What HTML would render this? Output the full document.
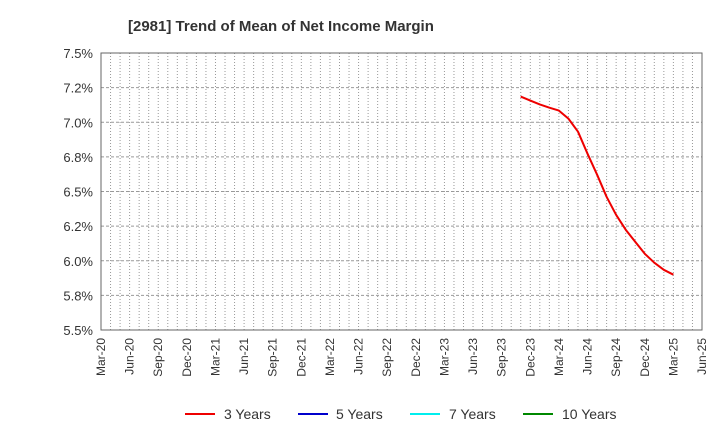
<!DOCTYPE html>
<html><head><meta charset="utf-8"><style>
body{margin:0;background:#fff;font-family:"Liberation Sans",sans-serif}
</style></head><body>
<svg id="c" width="720" height="440" xmlns="http://www.w3.org/2000/svg" font-family="Liberation Sans, sans-serif">
<text x="128" y="31" font-size="15" font-weight="bold" fill="#333">[2981]  Trend of Mean of Net Income Margin</text>
<g id="grid"></g><g id="axes"></g><g id="series"></g>
<g font-size="14" fill="#333">
<line x1="185" y1="414" x2="215" y2="414" stroke="#e00" stroke-width="2"/>
<text x="224" y="419">3 Years</text>
<line x1="298" y1="414" x2="328" y2="414" stroke="#00c" stroke-width="2"/>
<text x="336" y="419">5 Years</text>
<line x1="410" y1="414" x2="440" y2="414" stroke="#0ee" stroke-width="2"/>
<text x="449" y="419">7 Years</text>
<line x1="523" y1="414" x2="553" y2="414" stroke="#080" stroke-width="2"/>
<text x="562" y="419">10 Years</text>
</g>
</svg>
<script>
const yTicks=[5.5,5.75,6.0,6.25,6.5,6.75,7.0,7.25,7.5];
const yTickLabels=["5.5%","5.8%","6.0%","6.2%","6.5%","6.8%","7.0%","7.2%","7.5%"];
const xTickLabels=["Mar-20","Jun-20","Sep-20","Dec-20","Mar-21","Jun-21","Sep-21","Dec-21","Mar-22","Jun-22","Sep-22","Dec-22","Mar-23","Jun-23","Sep-23","Dec-23","Mar-24","Jun-24","Sep-24","Dec-24","Mar-25","Jun-25"];
const series3StartMonth=44; // months after Mar-20 (Nov-23)
const series3=[7.185,7.156,7.129,7.105,7.084,7.026,6.932,6.773,6.621,6.462,6.332,6.224,6.137,6.050,5.986,5.935,5.899];
const L=101,R=702,T=53,B=330,NM=63;
const xs=m=>L+(R-L)*m/NM;
const ys=v=>B-(B-T)*(v-5.5)/2;
const NS="http://www.w3.org/2000/svg";
function mk(t,a,p){const e=document.createElementNS(NS,t);for(const k in a)e.setAttribute(k,a[k]);p.appendChild(e);return e;}
const g=document.getElementById('grid'),ax=document.getElementById('axes'),se=document.getElementById('series');
for(let m=1;m<NM;m++){
 const l=mk('line',{x1:xs(m),x2:xs(m),y1:T,y2:B,stroke:'#999','stroke-dasharray':'1,2'},g);
 
 
}
yTicks.forEach((v,i)=>{
 if(i>0&&i<yTicks.length-1){const l=mk('line',{x1:L,x2:R,y1:ys(v),y2:ys(v),stroke:'#999','stroke-dasharray':'3,2'},g);
 
 }
 const t=mk('text',{x:L-8,y:ys(v)+5,'text-anchor':'end','font-size':13,fill:'#333'},ax);
 
 
 t.textContent=yTickLabels[i];
});
xTickLabels.forEach((s,i)=>{
 const x=xs(i*3);
 const t=mk('text',{x:x+4,y:B+8,'text-anchor':'end','font-size':12,fill:'#333',transform:`rotate(-90 ${x+4} ${B+8})`},ax);
 
 
 t.textContent=s;
});
const fr=mk('rect',{x:L,y:T,width:R-L,height:B-T,fill:'none',stroke:'#666'},ax);


const pts=series3.map((v,i)=>xs(series3StartMonth+i).toFixed(1)+','+ys(v).toFixed(1)).join(' ');
const pl=mk('polyline',{points:pts,fill:'none',stroke:'#e00','stroke-width':2,'stroke-linejoin':'round'},se);


</script>
</body></html>
